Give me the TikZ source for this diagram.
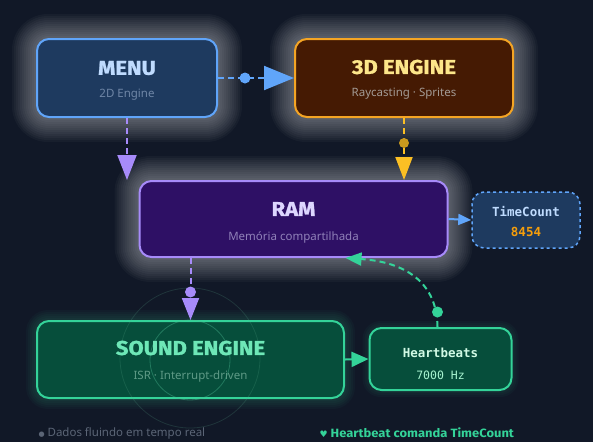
\documentclass[tikz,border=0pt]{standalone}
\usepackage{fontspec}
\setmainfont{Noto Sans}
\newfontfamily\titlefont[FakeStretch=1.1,BoldFeatures={FakeBold=1.2}]{Fira Sans}
\newfontfamily\notefont[FakeStretch=1.08]{Fira Sans}
\newfontfamily\monofont{DejaVu Sans Mono}
\newfontfamily\symfont{DejaVu Sans}
\usetikzlibrary{arrows.meta,calc}
\pgfdeclarelayer{bg}
\pgfsetlayers{bg,main}
\definecolor{bgc}{HTML}{111827}
\definecolor{bluefill}{HTML}{1E3A5F}
\definecolor{blueline}{HTML}{60A5FA}
\definecolor{bluetext}{HTML}{BFDBFE}
\definecolor{bluesub}{HTML}{6F86A6}
\definecolor{orfill}{HTML}{451A03}
\definecolor{orline}{HTML}{F5A524}
\definecolor{ortext}{HTML}{FDE68A}
\definecolor{orsub}{HTML}{A39A94}
\definecolor{orarrow}{HTML}{FBBF24}
\definecolor{pufill}{HTML}{2E1065}
\definecolor{puline}{HTML}{A78BFA}
\definecolor{putext}{HTML}{DDD6FE}
\definecolor{pusub}{HTML}{8F80B8}
\definecolor{grfill}{HTML}{064E3B}
\definecolor{grline}{HTML}{34D399}
\definecolor{grtext}{HTML}{6EE7B7}
\definecolor{grsub}{HTML}{5E9A86}
\definecolor{hbtext}{HTML}{D1FAE5}
\definecolor{hbsub}{HTML}{A7F3D0}
\definecolor{valc}{HTML}{F59E0B}
\definecolor{notec}{HTML}{5B6576}
\newcommand\glowit[4]{%
  \begin{pgfonlayer}{bg}
  \foreach \d in {2,4,...,#3} {
    \fill[#2, opacity=#4, rounded corners={12pt+\d pt}]
      ($(#1.south west)+(-\d,\d)$) rectangle ($(#1.north east)+(\d,-\d)$);
  }
  \end{pgfonlayer}}
\begin{document}
\begin{tikzpicture}[x=1pt,y=-1pt,
  box/.style={draw, line width=2pt, rounded corners=12pt, inner sep=0pt},
  title/.style={font=\titlefont\fontsize{20}{22}\selectfont\bfseries},
  sub/.style={font=\fontsize{11.5}{13}\selectfont},
  mono/.style={font=\monofont\fontsize{12.5}{14}\selectfont\bfseries},
  monosmall/.style={font=\monofont\fontsize{11.5}{14}\selectfont},
  link/.style={line width=2pt, dash pattern=on 6pt off 4pt},
  dotnode/.style={circle, fill=#1, inner sep=0pt, minimum size=11pt},
]
\begin{pgfonlayer}{bg}
\fill[bgc] (0,0) rectangle (593,442);
\end{pgfonlayer}
\useasboundingbox (0,0) rectangle (593,442);

% boxes
\node[box, fill=bluefill, draw=blueline, minimum width=180pt, minimum height=78pt] (menu) at (127,78) {};
\node[box, fill=orfill, draw=orline, minimum width=218pt, minimum height=78pt] (eng) at (404,78) {};
\node[box, fill=pufill, draw=puline, minimum width=308pt, minimum height=76pt] (ram) at (293.5,219) {};
\node[box, fill=bluefill, draw=blueline, dashed, line width=1.5pt, minimum width=108pt, minimum height=56pt] (tc) at (526,220) {};
\node[box, fill=grfill, draw=grline, minimum width=307pt, minimum height=77pt] (snd) at (190.5,359.5) {};
\node[box, fill=grfill, draw=grline, minimum width=142pt, minimum height=62pt] (hb) at (440.5,359) {};

\glowit{menu}{white}{24}{0.032}
\glowit{eng}{white}{24}{0.032}
\glowit{ram}{white}{24}{0.032}
\glowit{snd}{grline}{10}{0.035}
\glowit{hb}{grline}{6}{0.035}

% pulse rings
\draw[grline!70!gray, opacity=0.4, line width=0.8pt] (190,360) circle[radius=40pt];
\draw[grline!50!gray, opacity=0.2, line width=0.8pt] (190,358) circle[radius=70pt];

% texts
\node[title, text=bluetext] (menut) at (127,68) {MENU};
\node[sub, text=bluesub] (menus) at (127,95) {2D Engine};
\node[title, text=ortext] (engt) at (404,67) {3D ENGINE};
\node[sub, text=orsub] (engs) at (404,94) {Raycasting · Sprites};
\node[title, text=putext] (ramt) at (293.5,209) {RAM};
\node[sub, text=pusub] (rams) at (293.5,237) {Memória compartilhada};
\node[mono, text=bluetext] (tct) at (526,212) {TimeCount};
\node[mono, text=valc] (tcv) at (526,232) {8454};
\node[title, text=grtext] (sndt) at (190.5,348) {SOUND ENGINE};
\node[sub, text=grsub] (snds) at (190.5,377) {ISR · Interrupt-driven};
\node[mono, text=hbtext] (hbt) at (440.5,353) {Heartbeats};
\node[monosmall, text=hbsub] (hbs) at (440.5,375) {7000 Hz};

% connectors
\draw[link, blueline, -{Triangle[length=30pt,width=24pt]}] (menu.east) -- (eng.west);
\node[dotnode=blueline] (d1) at (245,78) {};
\draw[link, puline, -{Triangle[length=25pt,width=19pt]}] (menu.south) -- (menu.south |- ram.north);
\draw[link, orarrow, -{Triangle[length=23pt,width=17pt]}] (eng.south) -- (eng.south |- ram.north);
\node[dotnode=orarrow!80!black, minimum size=10pt] (d2) at (404,143) {};
\draw[link, puline, -{Triangle[length=22pt,width=17pt]}] (snd.north |- ram.south) -- (snd.north);
\node[dotnode=puline] (d3) at (190.5,292) {};
\draw[line width=2pt, blueline, -{Triangle[length=13pt,width=11pt]}] (ram.east) -- (tc.west);
\draw[line width=2pt, grline, -{Triangle[length=17pt,width=15pt]}] (snd.east) -- (hb.west);
\draw[link, grline, -{Triangle[length=16pt,width=13pt]}] ([xshift=-3pt]hb.north) .. controls (437,282) and (405,262) .. ([xshift=52pt]ram.south);
\node[dotnode=grline] (d4) at (437.5,312) {};

% notes
\node[anchor=west, text=notec, font=\fontsize{11.5}{13}\selectfont] (n1) at (35,433) {{\symfont\fontsize{7}{9}\selectfont ●} Dados fluindo em tempo real};
\node[anchor=west, text=grline, font=\notefont\fontsize{12}{13}\selectfont\bfseries] (n2) at (316,433) {{\symfont\fontsize{9}{11}\selectfont ♥} Heartbeat comanda TimeCount};
\end{tikzpicture}
\end{document}
